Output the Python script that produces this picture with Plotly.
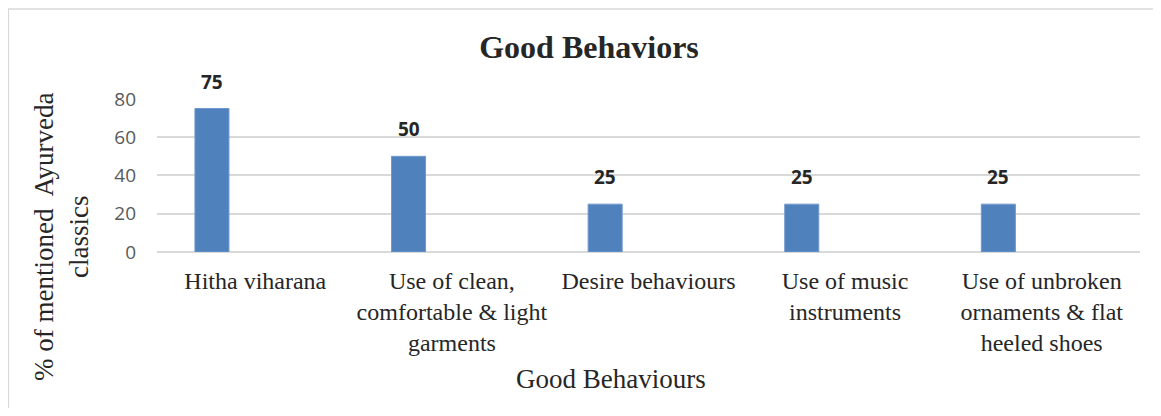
import plotly.graph_objects as go

categories = [
    "Hitha viharana",
    "Use of clean,<br>comfortable & light<br>garments",
    "Desire behaviours",
    "Use of music<br>instruments",
    "Use of unbroken<br>ornaments & flat<br>heeled shoes",
]
values = [75, 50, 25, 25, 25]
y_ticks = [0, 20, 40, 60, 80]

serif = "Liberation Serif, Times New Roman, serif"
sans = "Open Sans, Arial, sans-serif"

bar_width = 0.173
bar_offset = -0.307

fig = go.Figure()
fig.add_trace(go.Bar(
    x=categories, y=values,
    width=bar_width, offset=bar_offset,
    marker=dict(color="#4f81bd", line=dict(color="#6f98cc", width=1)),
    hoverinfo="x+y",
))

# data labels above bars
for i, v in enumerate(values):
    fig.add_annotation(
        x=i + bar_offset + bar_width / 2, y=v, text=f"<b>{v}</b>",
        showarrow=False, xanchor="center", yanchor="bottom", yshift=12,
        font=dict(family=sans, size=19, color="#262626"),
    )

fig.add_annotation(
    x=-0.097, y=0.095, xref="paper", yref="paper",
    xanchor="center", yanchor="middle",
    text="% of mentioned  Ayurveda<br>classics", textangle=-90,
    showarrow=False, font=dict(family=serif, size=27, color="#262626"),
)
fig.add_annotation(
    x=0.462, y=-0.825, xref="paper", yref="paper",
    xanchor="center", yanchor="middle",
    text="Good Behaviours", showarrow=False,
    font=dict(family=serif, size=27, color="#262626"),
)

# chart border (page body margin of 8px hides anything further out)
fig.add_shape(
    type="rect", xref="paper", yref="paper",
    x0=-0.1512, x1=1.2, y0=-1.3, y1=1.578,
    line=dict(color="#d9d9d9", width=1.5), layer="below",
)

# page body has an 8px margin, so the figure is shrunk to fit
fig.update_layout(
    width=1153, height=400,
    margin=dict(l=149, r=21, t=90, b=156),
    paper_bgcolor="white", plot_bgcolor="white",
    showlegend=False,
    title=dict(
        text="<b>Good Behaviors</b>", x=581 / 1153, xref="container",
        y=1 - 39 / 400, yref="container", xanchor="center", yanchor="middle",
        font=dict(family=serif, size=32, color="#262626"),
    ),
    xaxis=dict(
        tickfont=dict(family=serif, size=24, color="#262626"),
        showgrid=False, showline=False, ticks="", ticklabelstandoff=12,
        fixedrange=True,
    ),
    yaxis=dict(
        range=[0, 80.5], tickvals=y_ticks,
        tickfont=dict(family=sans, size=19, color="#595959"),
        showgrid=True, gridcolor="#d9d9d9", gridwidth=1.5,
        zeroline=True, zerolinecolor="#d9d9d9", zerolinewidth=1.5,
        showline=False, ticks="", ticklabelstandoff=20,
    ),
)

fig.write_html("out.html")
